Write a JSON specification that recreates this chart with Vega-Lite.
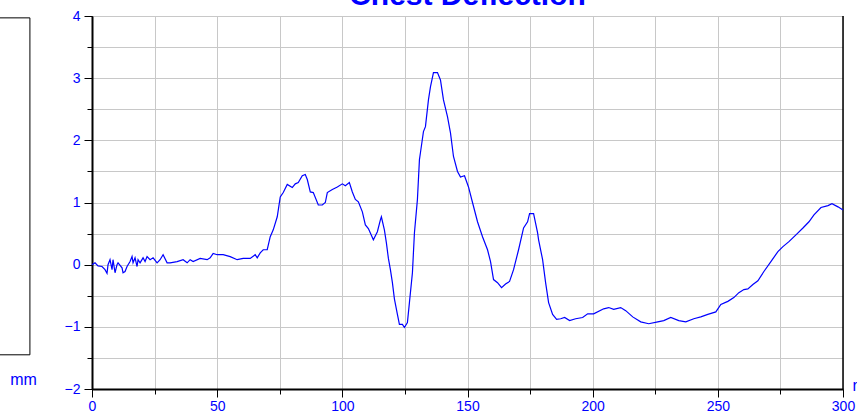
{
  "$schema": "https://vega.github.io/schema/vega-lite/v6.json",
  "width": 751,
  "height": 373,
  "autosize": {"type": "none"},
  "padding": {"left": 92, "top": 16, "right": 14, "bottom": 25},
  "background": "white",
  "config": {"view": {"stroke": "#808080", "strokeWidth": 1}, "font": "Liberation Sans"},
  "resolve": {"axis": {"x": "independent", "y": "independent"}},
  "data": {"values": [
    {"t":0,"d":0.0},{"t":1.2,"d":0.03},{"t":2.4,"d":-0.02},{"t":4,"d":-0.03},{"t":5.2,"d":-0.08},{"t":6,"d":-0.14},{"t":6.4,"d":0.0},{"t":7.2,"d":0.08},{"t":8,"d":-0.08},{"t":8.4,"d":0.08},{"t":9.2,"d":-0.13},{"t":10,"d":0.0},{"t":10.4,"d":0.03},{"t":12,"d":-0.05},{"t":12.4,"d":-0.13},{"t":13.2,"d":-0.11},{"t":14,"d":-0.03},{"t":15.2,"d":0.05},{"t":16,"d":0.13},{"t":16.4,"d":0.03},{"t":17.2,"d":0.11},{"t":18,"d":-0.03},{"t":18.4,"d":0.08},{"t":19.2,"d":0.03},{"t":20.4,"d":0.11},{"t":21.2,"d":0.05},{"t":22,"d":0.13},{"t":23.2,"d":0.08},{"t":24.4,"d":0.11},{"t":26,"d":0.03},{"t":27.2,"d":0.08},{"t":28.4,"d":0.16},{"t":30,"d":0.03},{"t":31.2,"d":0.03},{"t":34,"d":0.05},{"t":36.4,"d":0.08},{"t":38,"d":0.03},{"t":39.2,"d":0.08},{"t":40.4,"d":0.05},{"t":43.2,"d":0.1},{"t":46,"d":0.08},{"t":47.2,"d":0.11},{"t":48.4,"d":0.18},{"t":50,"d":0.16},{"t":52.4,"d":0.16},{"t":55.2,"d":0.13},{"t":58,"d":0.08},{"t":60.4,"d":0.1},{"t":63.2,"d":0.1},{"t":65.2,"d":0.16},{"t":66,"d":0.11},{"t":67.2,"d":0.19},{"t":68.4,"d":0.24},{"t":70,"d":0.24},{"t":71.2,"d":0.45},{"t":72.4,"d":0.56},{"t":74,"d":0.77},{"t":75.2,"d":1.09},{"t":76.4,"d":1.16},{"t":78,"d":1.29},{"t":80,"d":1.24},{"t":81.2,"d":1.3},{"t":82.4,"d":1.32},{"t":84,"d":1.43},{"t":85.2,"d":1.45},{"t":86,"d":1.37},{"t":87.2,"d":1.17},{"t":88.4,"d":1.16},{"t":90.4,"d":0.96},{"t":92,"d":0.96},{"t":93.2,"d":1.0},{"t":94,"d":1.16},{"t":96,"d":1.21},{"t":98,"d":1.25},{"t":100,"d":1.3},{"t":101.2,"d":1.27},{"t":102.8,"d":1.32},{"t":104,"d":1.17},{"t":105.2,"d":1.05},{"t":106.4,"d":1.01},{"t":108,"d":0.85},{"t":109.2,"d":0.64},{"t":110.4,"d":0.58},{"t":112.4,"d":0.4},{"t":114,"d":0.53},{"t":115.2,"d":0.72},{"t":115.6,"d":0.77},{"t":116.8,"d":0.56},{"t":117.6,"d":0.35},{"t":118.4,"d":0.1},{"t":119.2,"d":-0.08},{"t":120,"d":-0.29},{"t":120.8,"d":-0.55},{"t":122,"d":-0.8},{"t":122.8,"d":-0.96},{"t":124,"d":-0.96},{"t":124.8,"d":-1.01},{"t":126,"d":-0.93},{"t":126.8,"d":-0.61},{"t":128,"d":-0.13},{"t":128.8,"d":0.51},{"t":130,"d":1.05},{"t":130.8,"d":1.69},{"t":131.2,"d":1.8},{"t":132.4,"d":2.14},{"t":133.2,"d":2.22},{"t":134.4,"d":2.65},{"t":135.2,"d":2.86},{"t":136.4,"d":3.09},{"t":138,"d":3.09},{"t":139.2,"d":2.97},{"t":140.4,"d":2.65},{"t":142,"d":2.38},{"t":143.2,"d":2.12},{"t":144.4,"d":1.74},{"t":146,"d":1.5},{"t":147.2,"d":1.41},{"t":148.8,"d":1.43},{"t":150.4,"d":1.25},{"t":152,"d":1.0},{"t":154,"d":0.69},{"t":156,"d":0.45},{"t":158,"d":0.24},{"t":159.2,"d":0.05},{"t":160.4,"d":-0.24},{"t":162,"d":-0.29},{"t":163.6,"d":-0.37},{"t":165.2,"d":-0.31},{"t":166.8,"d":-0.27},{"t":168.4,"d":-0.08},{"t":170.4,"d":0.24},{"t":172.4,"d":0.59},{"t":174,"d":0.69},{"t":174.8,"d":0.82},{"t":176.4,"d":0.82},{"t":178,"d":0.51},{"t":178.4,"d":0.4},{"t":180,"d":0.08},{"t":181.2,"d":-0.29},{"t":182.4,"d":-0.61},{"t":184,"d":-0.8},{"t":185.6,"d":-0.88},{"t":187.2,"d":-0.87},{"t":188.8,"d":-0.85},{"t":190.8,"d":-0.9},{"t":193.2,"d":-0.87},{"t":196,"d":-0.85},{"t":198,"d":-0.79},{"t":200.4,"d":-0.79},{"t":204.4,"d":-0.71},{"t":206.4,"d":-0.69},{"t":208.4,"d":-0.72},{"t":211.2,"d":-0.69},{"t":213.2,"d":-0.74},{"t":216,"d":-0.84},{"t":219.2,"d":-0.92},{"t":222.4,"d":-0.95},{"t":226,"d":-0.92},{"t":228.4,"d":-0.9},{"t":231.2,"d":-0.85},{"t":234.4,"d":-0.9},{"t":237.2,"d":-0.92},{"t":240.4,"d":-0.87},{"t":243.2,"d":-0.84},{"t":246,"d":-0.8},{"t":249.2,"d":-0.76},{"t":251.2,"d":-0.64},{"t":254,"d":-0.59},{"t":256.4,"d":-0.53},{"t":258.4,"d":-0.45},{"t":260.4,"d":-0.4},{"t":262,"d":-0.39},{"t":264,"d":-0.32},{"t":266,"d":-0.26},{"t":268.4,"d":-0.11},{"t":271.2,"d":0.05},{"t":274,"d":0.21},{"t":276,"d":0.29},{"t":278.4,"d":0.37},{"t":281.2,"d":0.48},{"t":284,"d":0.59},{"t":286.4,"d":0.69},{"t":288.4,"d":0.8},{"t":291.2,"d":0.92},{"t":294,"d":0.95},{"t":295.6,"d":0.98},{"t":298,"d":0.93},{"t":300,"d":0.88}
  ]},
  "layer": [
    {
      "data": {"values": [{}]},
      "mark": {"type": "rect", "fill": "white", "stroke": "black", "strokeWidth": 1, "clip": false},
      "encoding": {
        "x": {"datum": -40, "type": "quantitative", "scale": {"domain": [0, 300], "nice": false, "zero": false},
          "axis": {"orient": "bottom", "values": [0,25,50,75,100,125,150,175,200,225,250,275,300], "grid": true, "gridColor": "#c8c8c8", "gridWidth": 1, "labels": false, "tickSize": 5, "tickColor": "black", "domain": false, "title": null}},
        "x2": {"datum": -24.8},
        "y": {"datum": 3.97, "type": "quantitative", "scale": {"domain": [-2, 4], "nice": false, "zero": false},
          "axis": {"orient": "left", "values": [-2,-1.5,-1,-0.5,0,0.5,1,1.5,2,2.5,3,3.5,4], "grid": true, "gridColor": "#c8c8c8", "gridWidth": 1, "labels": false, "tickSize": 5, "tickColor": "black", "domain": false, "title": null}},
        "y2": {"datum": -1.45}
      }
    },
    {
      "data": {"values": [{}]},
      "mark": {"type": "rule", "color": "black", "strokeWidth": 1.5},
      "encoding": {"x": {"datum": 300, "type": "quantitative", "axis": null}}
    },
    {
      "data": {"values": [{"label": "Chest Deflection"}]},
      "mark": {"type": "text", "font": "Liberation Sans", "fontSize": 30, "fontWeight": "bold", "color": "#0000ff", "align": "center", "baseline": "alphabetic", "clip": false},
      "encoding": {
        "x": {"datum": 150, "type": "quantitative", "axis": null},
        "y": {"datum": 4.177, "type": "quantitative", "axis": null},
        "text": {"field": "label"}
      }
    },
    {
      "mark": {"type": "line", "color": "#0000ff", "strokeWidth": 1.2},
      "encoding": {
        "x": {"field": "t", "type": "quantitative",
          "axis": {"orient": "bottom", "values": [0,50,100,150,200,250,300], "grid": false, "tickSize": 8, "tickColor": "black", "domainColor": "black", "domainWidth": 2, "labelColor": "#0000ff", "labelFontSize": 14, "labelPadding": 2, "labelFlush": false, "title": "ms", "titleColor": "#0000ff", "titleFontSize": 16, "titleFontWeight": "normal", "titleAlign": "left", "titleBaseline": "alphabetic", "titleX": 760, "titleY": 1}},
        "y": {"field": "d", "type": "quantitative",
          "axis": {"orient": "left", "values": [-2,-1,0,1,2,3,4], "grid": false, "tickSize": 8, "tickColor": "black", "domainColor": "black", "domainWidth": 2, "labelColor": "#0000ff", "labelFontSize": 14, "labelPadding": 4, "labelFlush": false, "title": "mm", "titleAngle": 0, "titleColor": "#0000ff", "titleFontSize": 16, "titleFontWeight": "normal", "titleAlign": "center", "titleBaseline": "middle", "titleX": -69, "titleY": 363}}
      }
    }
  ]
}
